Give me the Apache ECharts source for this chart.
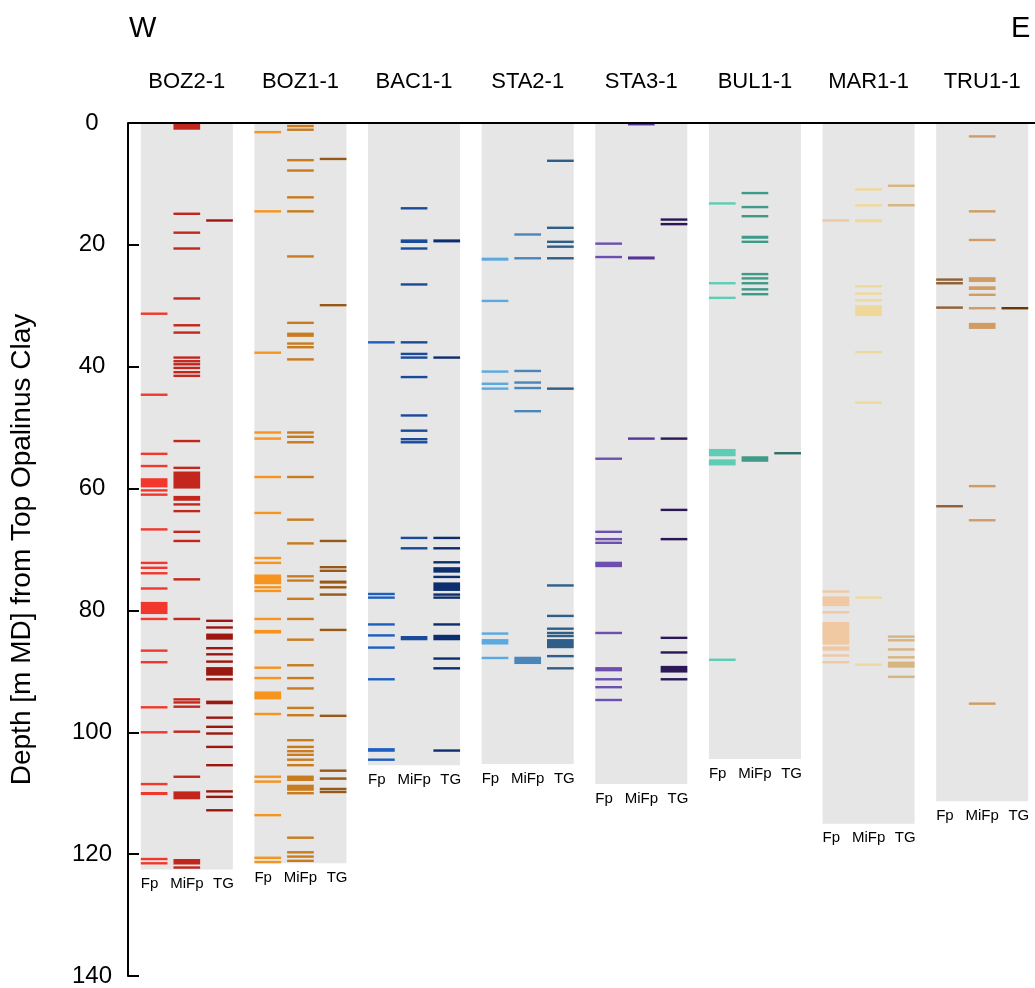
<!DOCTYPE html>
<html>
<head>
<meta charset="utf-8">
<script src="https://cdn.jsdelivr.net/npm/echarts@6/dist/echarts.min.js"></script>
<style>
  html, body { margin: 0; padding: 0; background: #fff; overflow: hidden; }
  #chart { width: 1040px; height: 988px; }
</style>
</head>
<body>
<div id="chart"></div>
<script>
// Wells, west to east
const wells = ['BOZ2-1', 'BOZ1-1', 'BAC1-1', 'STA2-1', 'STA3-1', 'BUL1-1', 'MAR1-1', 'TRU1-1'];
// Logged interval below Top Opalinus Clay [m MD]
const totalDepth = [122.5, 121.5, 105.4, 105.2, 108.5, 104.4, 115.0, 111.3];
const fracTypes = ['Fp', 'MiFp', 'TG'];
const depthTicks = [0, 20, 40, 60, 80, 100, 120, 140];

// Fracture depths [m MD]; a pair [top, bottom] marks a densely fractured zone
const boz2Fp = [31.3, 44.6, 54.3, 56.3, [58.3, 59.8], 60.3, 61.0, 66.7, 72.2, 73.0, 73.9, 76.4, [78.6, 80.6], 81.4, 86.6, 88.5, 95.9, 100.0, 108.5, [109.8, 110.3], 120.8, 121.5];
const boz2MiFp = [[0, 1.1], 14.9, 18.0, 20.6, 28.8, 33.2, 34.4, 38.5, 39.1, 39.6, 40.2, 40.9, 41.5, 52.2, 56.6, [57.2, 60.0], [61.2, 62.0], 62.6, 63.7, 67.1, 68.6, 74.9, 81.4, 94.6, 95.1, 95.8, 99.9, 107.3, [109.7, 111.0], [120.8, 121.7], 122.2];
const boz2TG = [16.0, 81.7, 82.8, [83.8, 84.8], 86.2, 87.2, 88.4, [89.3, 90.7], 91.3, [94.8, 95.4], 97.6, 99.1, 100.2, 102.4, 105.4, 109.7, 110.6, 112.8];

const boz1Fp = [1.5, 14.5, 37.7, 50.8, 51.8, 58.1, 64.0, 71.4, 72.2, [74.1, 75.7], 76.2, 76.8, 81.4, [83.2, 83.8], 89.4, 91.1, [93.3, 94.6], 97.0, 107.3, 108.1, 113.6, 120.6, 121.3];
const boz1MiFp = [0.5, 1.1, 6.1, 7.8, 12.2, 14.5, 21.9, 32.8, [34.4, 35.1], 36.2, 36.8, 38.8, 50.8, 51.5, [52.2, 52.6], 58.1, 65.1, 69.0, 74.4, 75.1, 78.1, 81.4, [84.6, 85.0], 89.0, 91.1, 92.8, 96.0, 97.2, 101.3, 102.4, 103.1, 103.7, 104.5, 105.4, [107.1, 108.0], [108.6, 109.6], 110.0, 117.3, 119.7, 120.4, 121.1];
const boz1TG = [5.9, 29.9, 68.6, 72.9, 73.5, [75.1, 75.6], 76.2, 77.4, 83.2, 97.3, 106.3, [107.4, 107.8], 109.3, 109.8];

const bacFp = [36.0, 77.3, 77.9, 82.3, 84.1, 86.1, 91.3, [102.6, 103.2], 104.5];
const bacMiFp = [14.0, [19.1, 19.7], 20.6, 26.5, 36.0, 37.9, 38.5, 41.7, 48.0, 50.5, 51.9, 52.4, 68.1, 69.8, [84.2, 84.9]];
const bacTG = [[19.1, 19.6], 38.5, 68.1, 69.8, 72.1, [72.9, 73.8], 74.5, [75.4, 76.8], 77.4, 77.9, 82.3, [84.0, 84.9], 87.9, 89.5, 103.0];

const sta2Fp = [[22.1, 22.6], 29.2, 40.8, 42.8, 43.6, 83.8, [84.7, 85.6], 87.8];
const sta2MiFp = [18.3, 22.2, 40.7, 42.6, 43.5, 47.3, [87.6, 88.8]];
const sta2TG = [6.2, 17.2, 19.5, 20.3, 22.2, [43.4, 43.8], 75.9, 80.9, 83.0, 83.7, 84.2, [84.7, 86.2], 87.5, 89.5];

const sta3Fp = [19.8, 22.0, 55.1, 67.1, 68.3, 68.9, [72.0, 72.9], 83.7, [89.3, 90.0], 91.3, 92.6, 94.7];
const sta3MiFp = [0.2, [21.9, 22.4], 51.8];
const sta3TG = [[15.7, 16.0], [16.4, 16.8], 51.8, 63.5, [68.1, 68.5], 84.5, 86.9, [89.1, 90.2], 91.3];

const bulFp = [13.2, 26.3, 28.7, [53.5, 54.7], [55.2, 56.2], 88.1];
const bulMiFp = [11.5, 13.8, 15.3, [18.5, 19.0], [19.3, 19.7], 24.8, 25.5, 26.3, 27.3, 28.1, [54.7, 55.6]];
const bulTG = [54.2];

const marFp = [16.0, 76.9, [77.7, 79.3], 80.3, [81.9, 85.6], [85.9, 86.6], 87.4, 88.5];
const marMiFp = [10.9, 13.5, [15.8, 16.3], 26.8, 28.0, 29.1, [29.9, 31.7], 37.6, 45.9, 77.9, 88.9];
const marTG = [10.3, 13.5, 84.3, 84.9, 86.4, 87.7, [88.4, 89.4], 90.9];

const truFp = [25.7, 26.3, 30.3, 62.9];
const truMiFp = [2.2, 14.5, 19.2, [25.3, 26.1], [26.8, 27.4], 28.2, 30.4, [32.8, 33.8], 59.6, 65.2, 95.3];
const truTG = [30.4];

const fractures = [
  [boz2Fp, boz2MiFp, boz2TG],
  [boz1Fp, boz1MiFp, boz1TG],
  [bacFp, bacMiFp, bacTG],
  [sta2Fp, sta2MiFp, sta2TG],
  [sta3Fp, sta3MiFp, sta3TG],
  [bulFp, bulMiFp, bulTG],
  [marFp, marMiFp, marTG],
  [truFp, truMiFp, truTG]
];

// Colour per well: Fp, MiFp, TG
const palette = [
  ['#f2382c', '#c3261c', '#9b1710'],
  ['#f7941d', '#c97b1e', '#97591a'],
  ['#1d5fbf', '#1a4a9a', '#0d2e6e'],
  ['#5aaae0', '#4a86b9', '#2f5f88'],
  ['#6d4fb0', '#553596', '#2c1757'],
  ['#5ecdb5', '#3f9a88', '#2e6f66'],
  ['#f0c8a2', '#f0d89a', '#d8b47e'],
  ['#8f6036', '#d19c63', '#6b3608']
];

const FONT = '"Liberation Sans", Arial, sans-serif';

const wellData = wells.map((w, i) => [i, totalDepth[i]]);
const markData = [];
fractures.forEach((cols, w) => cols.forEach((list, c) => list.forEach(d => {
  const top = Array.isArray(d) ? d[0] : d;
  const bot = Array.isArray(d) ? d[1] : d;
  markData.push([w, c, top, bot]);
})));

// Column geometry inside one category band
function layout(api, w) {
  const cx = api.coord([w, 0])[0];
  const band = api.coord([1, 0])[0] - api.coord([0, 0])[0];
  const wellW = band * 0.81;
  const colW = wellW * 0.29;
  const gap = (wellW - 3 * colW) / 2;
  const left = cx - wellW / 2;
  return { left, wellW, colW, gap };
}

function wellItem(params, api) {
  const w = api.value(0);
  const g = layout(api, w);
  const y0 = api.coord([w, 0])[1];
  const y1 = api.coord([w, api.value(1)])[1];
  const children = [{
    type: 'rect',
    shape: { x: g.left, y: y0, width: g.wellW, height: y1 - y0 },
    style: { fill: '#e6e6e6' }
  }];
  const aligns = ['left', 'center', 'right'];
  fracTypes.forEach((t, c) => {
    let x;
    if (c === 0) x = g.left;
    else if (c === 1) x = g.left + g.colW + g.gap + g.colW / 2;
    else x = g.left + g.wellW + 1;
    children.push({
      type: 'text',
      x: x,
      y: y1 + 7,
      style: {
        text: t, fill: '#000', fontSize: 15, fontFamily: FONT,
        align: aligns[c], verticalAlign: 'top'
      }
    });
  });
  return { type: 'group', children };
}

function markItem(params, api) {
  const w = api.value(0), c = api.value(1);
  const g = layout(api, w);
  const x = g.left + c * (g.colW + g.gap);
  let y1 = api.coord([w, api.value(2)])[1];
  let y2 = api.coord([w, api.value(3)])[1];
  const minH = 2.4;
  if (y2 - y1 < minH) {
    const m = (y1 + y2) / 2;
    y1 = m - minH / 2;
    y2 = m + minH / 2;
  }
  return {
    type: 'rect',
    shape: { x: x, y: y1, width: g.colW, height: y2 - y1 },
    style: { fill: palette[w][c] }
  };
}

const chart = echarts.init(document.getElementById('chart'), null, { renderer: 'canvas' });
chart.setOption({
  backgroundColor: '#fff',
  animation: false,
  grid: { left: 130, right: 1, top: 123, bottom: 8, containLabel: false },
  graphic: [
    { type: 'text', left: 129, top: 14, style: { text: 'W', fontSize: 29, fontFamily: FONT, fill: '#000' } },
    { type: 'text', left: 1011, top: 14, style: { text: 'E', fontSize: 29, fontFamily: FONT, fill: '#000' } }
  ],
  xAxis: {
    type: 'category',
    position: 'top',
    data: wells,
    z: 10,
    axisLine: { show: true, lineStyle: { color: '#000', width: 2 } },
    axisTick: { show: false },
    axisLabel: { color: '#000', fontSize: 22, fontFamily: FONT, margin: 30, interval: 0 },
    splitLine: { show: false }
  },
  yAxis: {
    type: 'value',
    inverse: true,
    offset: 2,
    z: 10,
    min: depthTicks[0],
    max: depthTicks[depthTicks.length - 1],
    interval: 20,
    name: 'Depth [m MD] from Top Opalinus Clay',
    nameLocation: 'middle',
    nameRotate: 90,
    nameGap: 92,
    nameTextStyle: { color: '#000', fontSize: 28, fontFamily: FONT },
    axisLine: { show: true, onZero: false, lineStyle: { color: '#000', width: 2 } },
    axisTick: { show: true, inside: true, length: 11, lineStyle: { color: '#000', width: 2 } },
    axisLabel: { color: '#000', fontSize: 24, fontFamily: FONT, margin: 36, align: 'center' },
    splitLine: { show: false }
  },
  series: [
    {
      type: 'custom',
      name: 'wells',
      renderItem: wellItem,
      data: wellData,
      encode: { x: 0, y: 1 },
      clip: false,
      silent: true,
      z: 1
    },
    {
      type: 'custom',
      name: 'fractures',
      renderItem: markItem,
      data: markData,
      encode: { x: 0, y: [2, 3] },
      clip: false,
      silent: true,
      z: 2
    }
  ]
});
</script>
</body>
</html>
